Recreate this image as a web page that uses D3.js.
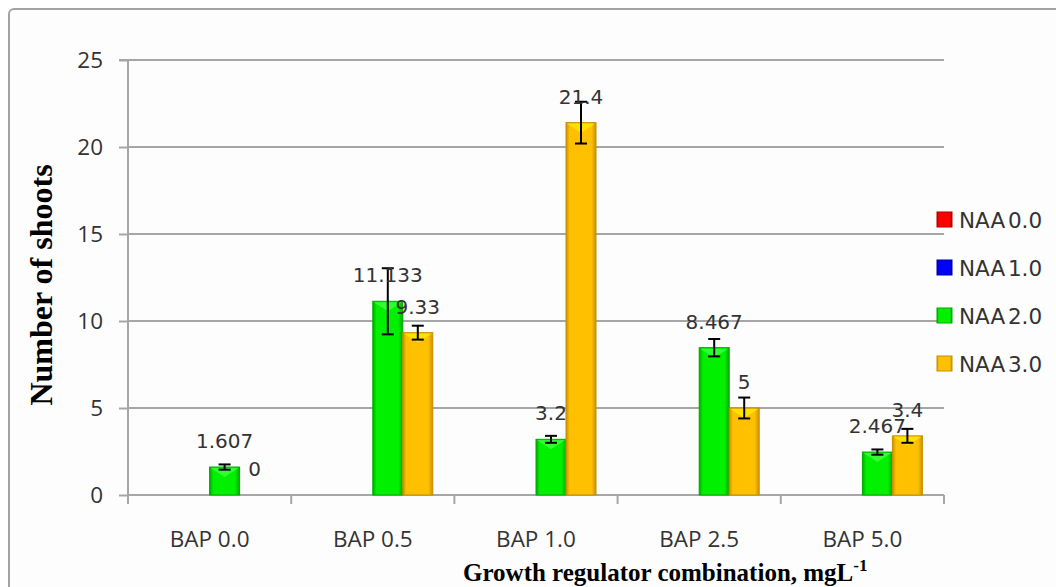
<!DOCTYPE html>
<html><head><meta charset="utf-8">
<script src="https://cdn.jsdelivr.net/npm/d3@7"></script>
<style>body{margin:0;background:#fff;}svg{display:block;}</style>
</head><body>
<svg id="c" width="1056" height="587"></svg>
<script>
const categories = ["BAP 0.0","BAP 0.5","BAP 1.0","BAP 2.5","BAP 5.0"];
const seriesNames = ["NAA 0.0","NAA 1.0","NAA 2.0","NAA 3.0"];
const naa00 = [null,null,null,null,null];
const naa10 = [null,null,null,null,null];
const naa20 = [1.607, 11.133, 3.2, 8.467, 2.467];
const naa30 = [0, 9.33, 21.4, 5, 3.4];
const err20 = [0.15, 1.9, 0.2, 0.5, 0.15];
const err30 = [0, 0.4, 1.2, 0.6, 0.4];
const labels20 = ["1.607","11.133","3.2","8.467","2.467"];
const labels30 = ["0","9.33","21.4","5","3.4"];
const yTicks = [0,5,10,15,20,25];
const colors = ["#ff0000","#0000ff","#00f000","#ffc000"];
const darkColors = ["#b00000","#0000a0","#00a800","#c89000"];

const svg = d3.select("#c");
const defs = svg.append("defs");
colors.forEach((c,i)=>{
  const g = defs.append("linearGradient").attr("id","g"+i).attr("x1","0").attr("x2","1").attr("y1","0").attr("y2","0");
  g.append("stop").attr("offset","0").attr("stop-color",darkColors[i]);
  g.append("stop").attr("offset","0.12").attr("stop-color",c);
  g.append("stop").attr("offset","0.85").attr("stop-color",c);
  g.append("stop").attr("offset","1").attr("stop-color",darkColors[i]);
});

// outer border
svg.append("rect").attr("x",9).attr("y",9).attr("width",1070).attr("height",600)
  .attr("rx",5).attr("fill","#fdfdfd").attr("stroke","#a3a3a3").attr("stroke-width",2);

const L=128, R=944, T=60, B=495;
const x = d3.scaleBand().domain(categories).range([L,R]);
const xs = d3.scaleBand().domain(seriesNames).range([0,x.bandwidth()]).paddingInner(0).paddingOuter(0.72);
const y = d3.scaleLinear().domain([0,25]).range([B,T]);

// gridlines
svg.append("g").selectAll("line").data(yTicks.filter(d=>d>0)).join("line")
  .attr("x1",L).attr("x2",R).attr("y1",d=>y(d)).attr("y2",d=>y(d))
  .attr("stroke","#a6a6a6").attr("stroke-width",2);

// y axis
const yAx = svg.append("g").attr("transform",`translate(${L},0)`)
  .call(d3.axisLeft(y).tickValues(yTicks).tickSize(9).tickPadding(16));
yAx.select(".domain").attr("stroke","#a6a6a6").attr("stroke-width",2).attr("d",`M-9,${T}H0V${B}`);
yAx.selectAll(".tick line").attr("stroke","#a6a6a6").attr("stroke-width",2);
yAx.selectAll(".tick text").attr("font-family","'Open Sans'").attr("font-size",22.5).attr("fill","#333");

// x axis
const xAx = svg.append("g").attr("transform",`translate(0,${B})`)
  .call(d3.axisBottom(x).tickSize(0).tickPadding(36));
xAx.select(".domain").attr("stroke","#a6a6a6").attr("stroke-width",2).attr("d",`M${L},0H${R}`);
xAx.selectAll(".tick text").attr("font-family","'Open Sans'").attr("font-size",22.5).attr("fill","#333");
svg.append("g").selectAll("line").data(d3.range(categories.length+1)).join("line")
  .attr("x1",i=>L+i*x.step()).attr("x2",i=>L+i*x.step()).attr("y1",B).attr("y2",B+9)
  .attr("stroke","#a6a6a6").attr("stroke-width",2);

// bars
const allSeries = [naa00,naa10,naa20,naa30];
const allErr = [null,null,err20,err30];
const allLabels = [null,null,labels20,labels30];
const barG = svg.append("g");
allSeries.forEach((vals,si)=>{
  categories.forEach((c,ci)=>{
    const v = vals[ci];
    if(v===null) return;
    const bx = x(c)+xs(seriesNames[si]);
    const bw = xs.bandwidth();
    if(v>0){
      barG.append("rect").attr("x",bx).attr("y",y(v)).attr("width",bw).attr("height",B-y(v))
        .attr("fill",`url(#g${si})`).attr("stroke",darkColors[si]).attr("stroke-width",1);
      barG.append("path").attr("d",`M${bx+1},${y(v)+1}H${bx+bw-1}L${bx+bw/2},${y(v)+Math.min(10,(B-y(v))/2)}Z`)
        .attr("fill", si===3 ? "#ffe800" : "#40ff40").attr("opacity",0.8);
    }
  });
});

// error bars
allSeries.forEach((vals,si)=>{
  if(!allErr[si]) return;
  categories.forEach((c,ci)=>{
    const v = vals[ci], e = allErr[si][ci];
    if(v===null || !e) return;
    const cx = x(c)+xs(seriesNames[si])+xs.bandwidth()/2;
    const g = svg.append("g").attr("stroke","#000").attr("stroke-width",2);
    g.append("line").attr("x1",cx).attr("x2",cx).attr("y1",y(v+e)).attr("y2",y(v-e));
    g.append("line").attr("x1",cx-6).attr("x2",cx+6).attr("y1",y(v+e)).attr("y2",y(v+e));
    g.append("line").attr("x1",cx-6).attr("x2",cx+6).attr("y1",y(v-e)).attr("y2",y(v-e));
  });
});

// data labels
allSeries.forEach((vals,si)=>{
  if(!allLabels[si]) return;
  categories.forEach((c,ci)=>{
    const v = vals[ci];
    if(v===null) return;
    const cx = x(c)+xs(seriesNames[si])+xs.bandwidth()/2;
    svg.append("text").attr("x",cx).attr("y",y(v)-19).attr("text-anchor","middle")
      .attr("font-family","'DejaVu Sans'").attr("font-size",20).attr("fill","#333")
      .text(allLabels[si][ci]);
  });
});

// legend
const lg = svg.append("g");
seriesNames.forEach((n,i)=>{
  const cy = 220 + i*48;
  lg.append("rect").attr("x",937).attr("y",cy-8).attr("width",15).attr("height",15)
    .attr("fill",`url(#g${i})`).attr("stroke",darkColors[i]).attr("stroke-width",1);
  lg.append("text").attr("x",959).attr("y",cy+8).attr("font-family","'DejaVu Sans'")
    .attr("font-size",21.5).attr("word-spacing",-4).attr("fill","#333").text(n);
});

// axis titles
svg.append("text").attr("transform","translate(52,285) rotate(-90)").attr("text-anchor","middle")
  .attr("font-family","'Liberation Serif'").attr("font-weight","bold").attr("font-size",32).attr("fill","#000")
  .text("Number of shoots");
const xt = svg.append("text").attr("x",463).attr("y",581)
  .attr("font-family","'Liberation Serif'").attr("font-weight","bold").attr("font-size",25).attr("fill","#000");
xt.append("tspan").text("Growth regulator combination, mgL");
xt.append("tspan").attr("dy",-10).attr("font-size",17).text("-1");
</script>
</body></html>
